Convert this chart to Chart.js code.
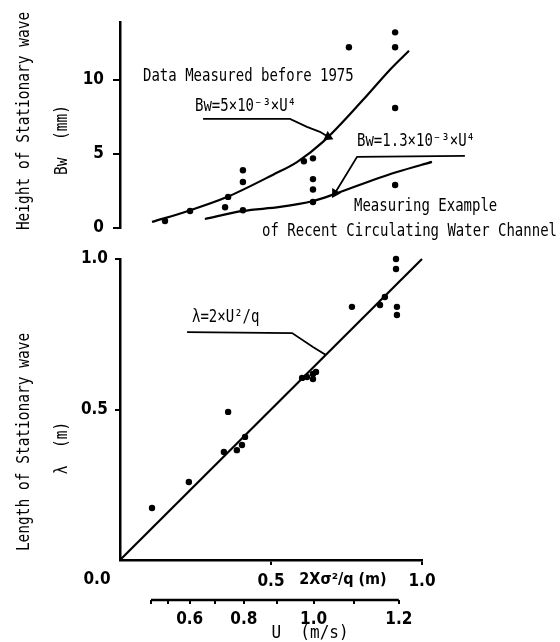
<!DOCTYPE html>
<html><head><meta charset="utf-8">
<script src="https://cdn.jsdelivr.net/npm/chart.js@4/dist/chart.umd.min.js"></script>
<style>
html,body{margin:0;padding:0;background:#fff;}
#wrap{position:relative;width:560px;height:642px;overflow:hidden;}
canvas{position:absolute;left:0;top:0;}
</style></head><body>
<div id="wrap"><canvas id="topChart" width="560" height="642"></canvas><canvas id="botChart" width="560" height="642"></canvas></div>
<script>
// ---- data (x values are 2πU²/g in metres) ----
// Upper panel: Height of stationary wave Bw (mm)
const bwMeasuredX = [0.149, 0.232, 0.358, 0.348, 0.407, 0.407, 0.407, 0.609, 0.639, 0.639, 0.639, 0.639, 0.758, 0.911, 0.911, 0.911, 0.911];
const bwMeasuredY = [0.47, 1.15, 2.1, 1.4, 3.9, 3.1, 1.2, 4.5, 4.7, 3.3, 2.6, 1.75, 12.2, 13.2, 12.2, 8.1, 2.9];
const bwCurveHighX = [0.106, 0.225, 0.354, 0.507, 0.586, 0.672, 0.805, 0.894, 0.957];
const bwCurveHighY = [0.41, 1.15, 2.09, 3.6, 4.45, 5.81, 8.65, 10.68, 11.96];
const bwCurveLowX = [0.281, 0.407, 0.530, 0.639, 0.712, 0.838, 0.917, 1.033];
const bwCurveLowY = [0.61, 1.15, 1.42, 1.82, 2.30, 3.24, 3.78, 4.46];
const leaderHighX = [0.275, 0.563, 0.619, 0.662, 0.689];
const leaderHighY = [7.36, 7.36, 6.82, 6.49, 6.15];
const leaderLowX = [1.142, 0.785, 0.712];
const leaderLowY = [4.86, 4.80, 2.36];
const bwTicks = [0, 5, 10];

// Lower panel: Length of stationary wave λ (m)
const lamMeasuredX = [0.106, 0.228, 0.358, 0.344, 0.387, 0.404, 0.414, 0.603, 0.619, 0.639, 0.649, 0.639, 0.768, 0.861, 0.877, 0.914, 0.914, 0.917, 0.917];
const lamMeasuredY = [0.173, 0.259, 0.492, 0.359, 0.365, 0.382, 0.409, 0.605, 0.608, 0.618, 0.625, 0.601, 0.841, 0.847, 0.874, 1.0, 0.967, 0.841, 0.814];
const lamLineX = [0, 1.0];
const lamLineY = [0, 1.0];
const leaderLamX = [0.222, 0.570, 0.639, 0.682];
const leaderLamY = [0.757, 0.754, 0.708, 0.681];
const lamTicks = [0.5, 1.0];
const lamTickLabels = ['0.5', '1.0'];
const xTicks = [0.5, 1.0];
const xTickLabels = ['0.5', '1.0'];
const uTickValues = [0.4, 0.5, 0.6, 0.7, 0.8, 0.9, 1.0, 1.1, 1.2];
const uTickLabels = ['', '', '0.6', '', '0.8', '', '1.0', '', '1.2'];

// ---- helpers ----
const G = 9.8;
const uToX = u => 2 * Math.PI * u * u / G;   // U axis position on the 2πU²/g axis
const pts = (xs, ys) => xs.map((x, i) => ({x, y: ys[i]}));
const BLACK = '#000';
const MONO = "'DejaVu Sans Mono', 'Liberation Mono', monospace";
const COND = "'DejaVu Sans Condensed', 'DejaVu Sans', sans-serif";
Chart.defaults.color = BLACK;
Chart.defaults.font.family = MONO;

const textPlugin = {
  id: 'texts',
  afterDraw(chart, args, opts) {
    const ctx = chart.ctx;
    ctx.save();
    ctx.fillStyle = BLACK;
    for (const t of (opts.items || [])) {
      ctx.save();
      ctx.font = t.font;
      ctx.textAlign = t.align || 'left';
      ctx.textBaseline = 'middle';
      ctx.translate(t.x, t.y);
      if (t.rot) ctx.rotate(-Math.PI / 2);
      if (t.tall) ctx.scale(1, t.tall);
      ctx.fillText(t.text, 0, 0);
      ctx.restore();
    }
    ctx.restore();
  }
};

const uAxisLine = {
  id: 'uAxisLine',
  afterDraw(chart) {
    const s = chart.scales.u; if (!s) return;
    const ctx = chart.ctx;
    const x1 = s.getPixelForValue(uToX(uTickValues[0]));
    const x2 = s.getPixelForValue(uToX(uTickValues[uTickValues.length - 1]));
    ctx.save(); ctx.strokeStyle = BLACK; ctx.lineWidth = 2.5;
    ctx.beginPath(); ctx.moveTo(x1, s.top); ctx.lineTo(x2, s.top); ctx.stroke();
    ctx.restore();
  }
};

const lineDs = (label, xs, ys, extra) => Object.assign({
  label, data: pts(xs, ys), showLine: true, pointRadius: 0, borderColor: BLACK,
  backgroundColor: BLACK, borderWidth: 2, clip: false
}, extra || {});

const T = 1.2; // vertical stretch of the typewriter-like lettering

// ---- upper chart ----
new Chart(document.getElementById('topChart'), {
  type: 'scatter',
  data: { datasets: [
    { label: 'Measured Bw', data: pts(bwMeasuredX, bwMeasuredY), pointRadius: 3.2, pointBackgroundColor: BLACK, pointBorderColor: BLACK, borderWidth: 0, clip: false },
    lineDs('Bw=5×10⁻³×U⁴', bwCurveHighX, bwCurveHighY, { cubicInterpolationMode: 'monotone', borderWidth: 2.2 }),
    lineDs('Bw=1.3×10⁻³×U⁴', bwCurveLowX, bwCurveLowY, { cubicInterpolationMode: 'monotone', borderWidth: 2.2 }),
    lineDs('leader high', leaderHighX, leaderHighY, { borderWidth: 1.8, pointRadius: [0, 0, 0, 0, 4], pointStyle: 'triangle', pointRotation: 115 }),
    lineDs('leader low', leaderLowX, leaderLowY, { borderWidth: 1.8, pointRadius: [0, 0, 4], pointStyle: 'triangle', pointRotation: 211 })
  ]},
  options: {
    responsive: false, animation: false, events: [],
    layout: { padding: { left: 0, top: 22, right: 17.2, bottom: 414 } },
    plugins: {
      legend: { display: false }, tooltip: { enabled: false },
      texts: { items: [
        { text: 'Height of Stationary wave', x: 24, y: 121, rot: true, tall: T, font: `14.5px ${MONO}`, align: 'center' },
        { text: 'Bw  (mm)', x: 62, y: 140, rot: true, tall: T, font: `14.5px ${MONO}`, align: 'center' },
        { text: 'Data Measured before 1975', x: 143, y: 77, tall: T, font: `14px ${MONO}` },
        { text: 'Bw=5×10⁻³×U⁴', x: 195, y: 107, tall: T, font: `14px ${MONO}` },
        { text: 'Bw=1.3×10⁻³×U⁴', x: 357, y: 142, tall: T, font: `14px ${MONO}` },
        { text: 'Measuring Example', x: 354, y: 207, tall: T, font: `14px ${MONO}` },
        { text: 'of Recent Circulating Water Channel', x: 262, y: 232, tall: T, font: `14px ${MONO}` }
      ]}
    },
    scales: {
      x: { type: 'linear', display: false, min: 0, max: 1.4 },
      y: {
        type: 'linear', min: 0, max: 13.9,
        afterFit: s => { s.width = 120; },
        afterBuildTicks: s => { s.ticks = bwTicks.map(v => ({ value: v })); },
        border: { display: true, color: BLACK, width: 2.5 },
        grid: { drawOnChartArea: false, drawTicks: true, tickLength: 7, color: BLACK, lineWidth: 2 },
        ticks: { padding: 9, color: BLACK, font: { family: COND, size: 17, weight: 'bold' }, callback: v => String(v) }
      }
    }
  },
  plugins: [textPlugin]
});

// ---- lower chart ----
new Chart(document.getElementById('botChart'), {
  type: 'scatter',
  data: { datasets: [
    { label: 'Measured λ', data: pts(lamMeasuredX, lamMeasuredY), pointRadius: 3.2, pointBackgroundColor: BLACK, pointBorderColor: BLACK, borderWidth: 0, clip: false },
    lineDs('λ=2πU²/g', lamLineX, lamLineY, { borderWidth: 2.2 }),
    lineDs('leader λ', leaderLamX, leaderLamY, { borderWidth: 1.8 })
  ]},
  options: {
    responsive: false, animation: false, events: [],
    layout: { padding: { left: 0, top: 259, right: 138, bottom: 0 } },
    plugins: {
      legend: { display: false }, tooltip: { enabled: false },
      texts: { items: [
        { text: 'Length of Stationary wave', x: 24, y: 442, rot: true, tall: T, font: `14.5px ${MONO}`, align: 'center' },
        { text: 'λ  (m)', x: 62, y: 448, rot: true, tall: T, font: `14.5px ${MONO}`, align: 'center' },
        { text: 'λ=2×U²/q', x: 192, y: 318, tall: T, font: `14px ${MONO}` },
        { text: '0.0', x: 97, y: 580, font: `bold 17px ${COND}`, align: 'center' },
        { text: '2Xσ²/q (m)', x: 343, y: 580, font: `bold 16px ${COND}`, align: 'center' },
        { text: 'U  (m/s)', x: 310, y: 633, tall: 1.1, font: `16px ${MONO}`, align: 'center' }
      ]}
    },
    scales: {
      x: {
        type: 'linear', position: 'bottom', weight: 0, min: 0, max: 1,
        afterFit: s => { s.height = 40; },
        afterBuildTicks: s => { s.ticks = xTicks.map(v => ({ value: v })); },
        border: { display: true, color: BLACK, width: 2.5 },
        grid: { drawOnChartArea: false, drawTicks: true, tickLength: 5, color: BLACK, lineWidth: 2 },
        ticks: { padding: 6, autoSkip: false, maxRotation: 0, color: BLACK, font: { family: COND, size: 17, weight: 'bold' }, callback: (v, i) => xTickLabels[i] }
      },
      u: {
        type: 'linear', position: 'bottom', weight: 1, min: 0, max: 1,
        afterFit: s => { s.height = 42; },
        afterBuildTicks: s => { s.ticks = uTickValues.map(u => ({ value: uToX(u) })); },
        border: { display: false },
        grid: { drawOnChartArea: false, drawTicks: true, tickLength: 4, color: BLACK, lineWidth: 2 },
        ticks: { padding: 5, autoSkip: false, maxRotation: 0, color: BLACK, font: { family: COND, size: 17, weight: 'bold' }, callback: (v, i) => uTickLabels[i] }
      },
      y: {
        type: 'linear', min: 0, max: 1,
        afterFit: s => { s.width = 120; },
        afterBuildTicks: s => { s.ticks = lamTicks.map(v => ({ value: v })); },
        border: { display: true, color: BLACK, width: 2.5 },
        grid: { drawOnChartArea: false, drawTicks: true, tickLength: 5, color: BLACK, lineWidth: 2 },
        ticks: { padding: 7, color: BLACK, font: { family: COND, size: 17, weight: 'bold' }, callback: (v, i) => lamTickLabels[i] }
      }
    }
  },
  plugins: [textPlugin, uAxisLine]
});
</script>
</body></html>
